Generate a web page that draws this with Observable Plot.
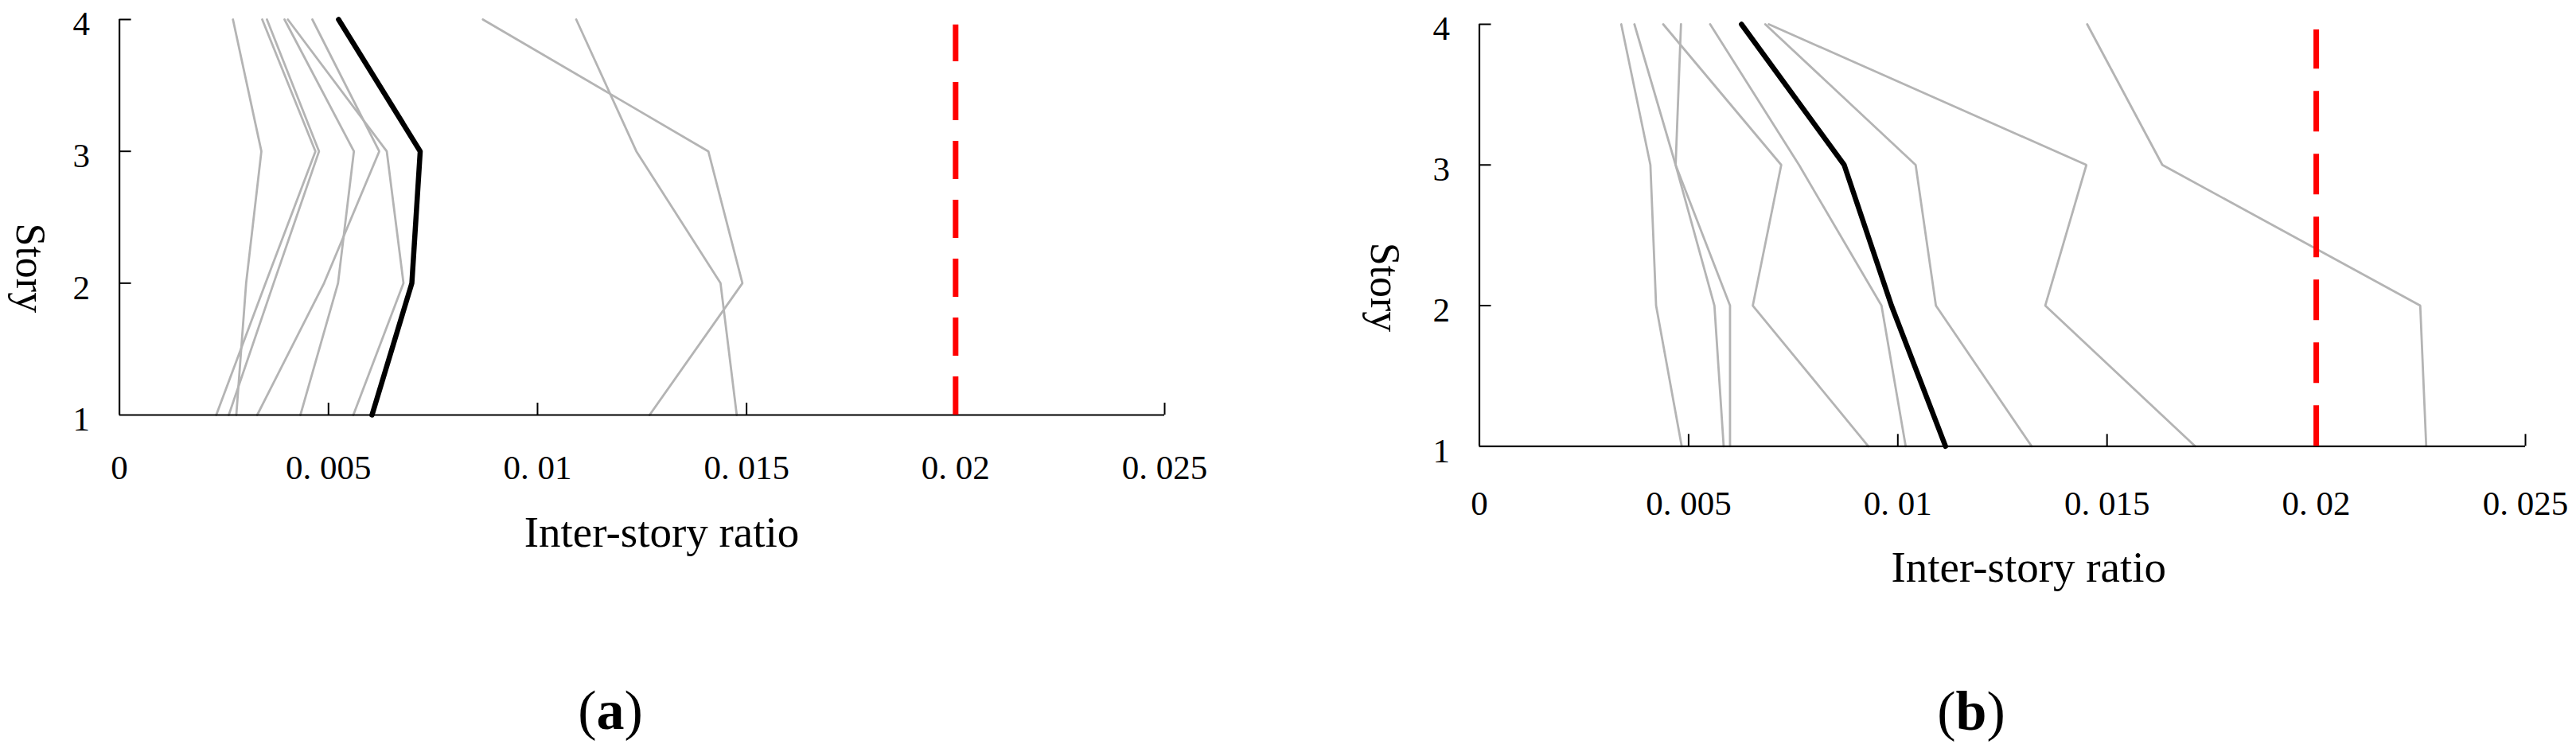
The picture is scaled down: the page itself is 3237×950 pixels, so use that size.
<!DOCTYPE html>
<html>
<head>
<meta charset="utf-8">
<script src="https://cdn.jsdelivr.net/npm/d3@7"></script>
<script src="https://cdn.jsdelivr.net/npm/@observablehq/plot@0.6"></script>
<style>
  html, body { margin: 0; padding: 0; background: #fff; }
  #page { position: relative; width: 3237px; height: 950px; overflow: hidden; background: #fff; }
  .panel { position: absolute; top: 0; }
  .cap { position: absolute; width: 200px; text-align: center; font-family: "Liberation Serif", "Times New Roman", serif;
         font-size: 70px; line-height: 1; color: #000; }
  .cap b { font-weight: bold; }
</style>
</head>
<body>
<div id="page">
  <div id="pa" class="panel" style="left:0px"></div>
  <div id="pb" class="panel" style="left:1618px"></div>
  <div class="cap" style="left:667px; top:858px">(<b>a</b>)</div>
  <div class="cap" style="left:2377px; top:859px">(<b>b</b>)</div>
</div>
<script>
// ---------- data ----------
const stories = [1, 2, 3, 4];
const storyTicks = [1, 2, 3, 4];
const xTickValues = [0, 0.005, 0.01, 0.015, 0.02, 0.025];
const xTickLabels = ["0", "0. 005", "0. 01", "0. 015", "0. 02", "0. 025"];
const xInnerTicks = [0.005, 0.01, 0.015, 0.02, 0.025];
const driftLimit = 0.02;
const limitSpan = [1, 3.96];
const xLabel = "Inter-story ratio";
const yLabel = "Story";

// panel (a): inter-story ratio at stories 1..4, one array per record
const aRecords = [
  [0.002795, 0.003030, 0.003395, 0.002715],
  [0.002315, 0.003495, 0.004688, 0.003415],
  [0.002615, 0.003688, 0.004774, 0.003528],
  [0.004328, 0.005228, 0.005608, 0.003948],
  [0.005594, 0.006794, 0.006394, 0.004028],
  [0.003295, 0.004894, 0.006214, 0.004614],
  [0.012680, 0.014901, 0.014086, 0.008693],
  [0.014765, 0.014377, 0.012364, 0.010926]
];
const aMean = [0.006041, 0.006994, 0.007194, 0.005241];

// panel (b)
const bRecords = [
  [0.004835, 0.004223, 0.004087, 0.003390],
  [0.005838, 0.005617, 0.004690, 0.003705],
  [0.005990, 0.005990, 0.004690, 0.004818],
  [0.009296, 0.006534, 0.007214, 0.004393],
  [0.010188, 0.009610, 0.007639, 0.005515],
  [0.013198, 0.010910, 0.010426, 0.006832],
  [0.017106, 0.013523, 0.014507, 0.006917],
  [0.022628, 0.022485, 0.016322, 0.014526]
];
const bMean = [0.011140, 0.009848, 0.008718, 0.006263];

// ---------- chart ----------
function tidy(records) {
  const out = [];
  records.forEach((r, i) => r.forEach((v, j) => out.push({run: i, story: stories[j], ratio: v})));
  return out;
}
function meanRows(m) { return m.map((v, j) => ({story: stories[j], ratio: v})); }

const TICK = 15; // inward tick length in px

function panel(cfg) {
  const mb = cfg.height - cfg.bottom;
  const frameW = cfg.width - cfg.ml - cfg.mr;
  const frameH = cfg.bottom - cfg.mt;
  return Plot.plot({
    width: cfg.width,
    height: cfg.height,
    marginLeft: cfg.ml,
    marginRight: cfg.mr,
    marginTop: cfg.mt,
    marginBottom: mb,
    style: {background: "#fff", color: "#000", fontFamily: "'Liberation Serif', 'Times New Roman', serif", fontSize: "43px", overflow: "visible"},
    x: {domain: [0, 0.025]},
    y: {domain: [1, 4]},
    marks: [
      Plot.line(tidy(cfg.records), {x: "ratio", y: "story", z: "run", stroke: "#b4b4b4", strokeWidth: 2.8, strokeLinejoin: "miter"}),
      Plot.line(meanRows(cfg.mean), {x: "ratio", y: "story", stroke: "#000", strokeWidth: 6.5, strokeLinejoin: "miter"}),
      Plot.ruleX([0], {stroke: "#000", strokeWidth: 2.2}),
      Plot.ruleY([1], {stroke: "#000", strokeWidth: 2.2}),
      // inward ticks on the x axis (pointing up from the bottom of the frame)
      Plot.ruleX(xInnerTicks, {x: d => d, insetTop: frameH - TICK, stroke: "#000", strokeWidth: 2}),
      // inward ticks on the y axis (pointing right from the left of the frame)
      Plot.ruleY(storyTicks.slice(1), {y: d => d, insetRight: frameW - TICK, stroke: "#000", strokeWidth: 2}),
      Plot.ruleX([driftLimit], {y1: limitSpan[0], y2: limitSpan[1], stroke: "#ff0000", strokeWidth: 7, strokeDasharray: cfg.dash}),
      Plot.axisX({ticks: xTickValues, tickSize: 0, tickPadding: cfg.xPad, tickFormat: (d) => xTickLabels[xTickValues.indexOf(d)], label: null, fontSize: 43}),
      Plot.axisY({ticks: storyTicks, tickSize: 0, tickPadding: 37, tickFormat: d => String(d), label: null, fontSize: 43, dy: 6}),
      Plot.text([xLabel], {text: d => d, frameAnchor: "bottom", lineAnchor: "bottom", dx: cfg.xlDx, dy: cfg.xlDy, fontSize: 55}),
      Plot.text([yLabel], {text: d => d, frameAnchor: "left", rotate: 90, dx: cfg.ylDx, dy: cfg.ylDy, fontSize: 52})
    ]
  });
}

document.getElementById("pa").appendChild(panel({
  width: 1618, height: 760, ml: 149.6, mr: 1618 - 1463, mt: 24, bottom: 521,
  records: aRecords, mean: aMean, dash: "48,26", xPad: 50,
  xlDx: 24.7, xlDy: 165, ylDx: -112.6, ylDy: 7.5
}));
document.getElementById("pb").appendChild(panel({
  width: 1619, height: 800, ml: 240.5, mr: 64, mt: 30, bottom: 560.3,
  records: bRecords, mean: bMean, dash: "51,28", xPad: 56,
  xlDx: 33, xlDy: 170, ylDx: -119.5, ylDy: 9
}));
</script>
</body>
</html>
